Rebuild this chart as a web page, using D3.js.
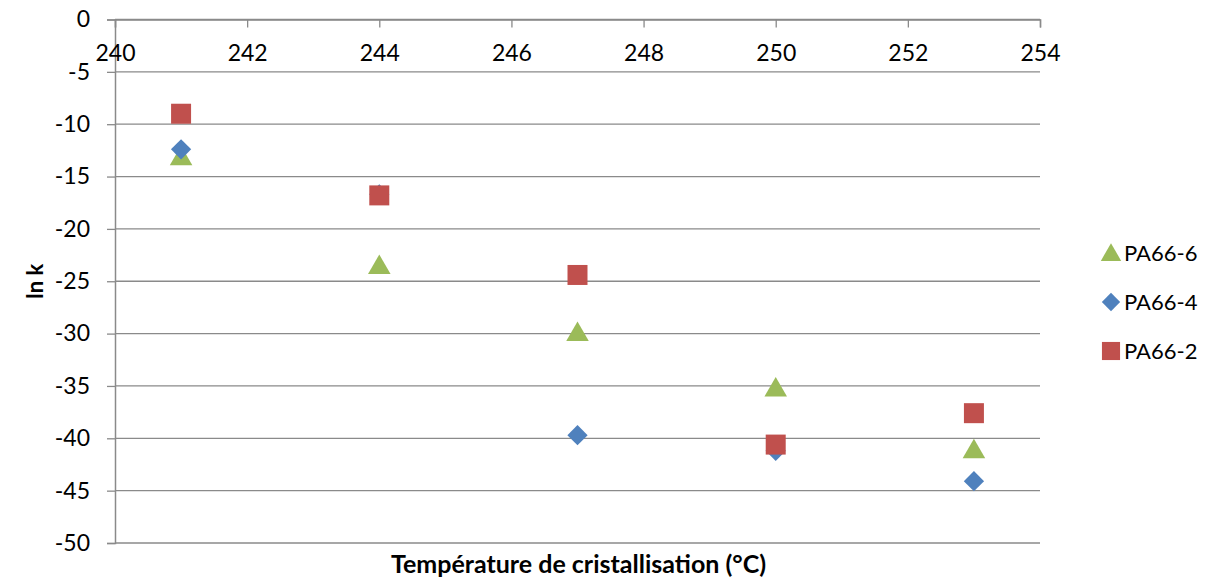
<!DOCTYPE html>
<html><head><meta charset="utf-8">
<script src="https://cdn.jsdelivr.net/npm/d3@7/dist/d3.min.js"></script>
<style>body{margin:0;background:#fff}svg{display:block}text{font-family:Lato,"Open Sans",sans-serif}</style>
</head><body><svg id="c" width="1212" height="581"></svg>
<script>
const temps = [241, 244, 247, 250, 253];
const pa66_6 = [-13.1, -23.5, -29.9, -35.2, -41.1];
const pa66_4 = [-12.4, -16.7, -39.7, -41.2, -44.1];
const pa66_2 = [-9.0, -16.8, -24.4, -40.6, -37.6];
const xTicks = [240, 242, 244, 246, 248, 250, 252, 254];
const yTicks = [0, -5, -10, -15, -20, -25, -30, -35, -40, -45, -50];
const seriesNames = ["PA66-6", "PA66-4", "PA66-2"];

const series = [
  {name: seriesNames[0], values: pa66_6, color: "#9BBB59", sym: d3.symbolTriangle, size: 220, rot: 0},
  {name: seriesNames[1], values: pa66_4, color: "#4F81BD", sym: d3.symbolSquare, size: 205, rot: 45},
  {name: seriesNames[2], values: pa66_2, color: "#C0504D", sym: d3.symbolSquare, size: 400, rot: 0}
];

const svg = d3.select("#c");
const L = 115, R = 1040, T = 19.5, B = 543;
const x = d3.scaleLinear().domain([240, 254]).range([L, R]);
const y = d3.scaleLinear().domain([-50, 0]).range([B, T]);

svg.append("g").selectAll("line").data(yTicks).join("line")
  .attr("x1", L).attr("x2", R).attr("y1", d => y(d)).attr("y2", d => y(d))
  .attr("stroke", "#8a8a8a").attr("stroke-width", 1.3);

const yAx = svg.append("g").attr("transform", `translate(${L},0)`)
  .call(d3.axisLeft(y).tickValues(yTicks).tickSize(8).tickPadding(17).tickFormat(d3.format("d")));
yAx.select(".domain").attr("stroke", "#8a8a8a").attr("stroke-width", 1.5);
yAx.selectAll(".tick line").attr("stroke", "#8a8a8a").attr("stroke-width", 1.3);
yAx.selectAll("text").attr("font-size", 23).attr("fill", "#000").text(d => d < 0 ? "-" + Math.abs(d) : d);

const xAx = svg.append("g").attr("transform", `translate(0,${y(0)})`)
  .call(d3.axisBottom(x).tickValues(xTicks).tickSize(8).tickPadding(17).tickFormat(d3.format("d")));
xAx.select(".domain").attr("stroke", "#8a8a8a").attr("stroke-width", 1.5);
xAx.selectAll(".tick line").attr("stroke", "#8a8a8a").attr("stroke-width", 1.3);
xAx.selectAll("text").attr("font-size", 23).attr("fill", "#000");

series.forEach(s => {
  svg.append("g").selectAll("path").data(s.values).join("path")
    .attr("d", d3.symbol().type(s.sym).size(s.size))
    .attr("transform", (d, i) => `translate(${x(temps[i])},${y(d) + (s.sym === d3.symbolTriangle ? 2 : 0)}) rotate(${s.rot})`)
    .attr("fill", s.color);
});

svg.append("text").attr("x", (L + R) / 2 + 1).attr("y", 573).attr("text-anchor", "middle")
  .attr("font-size", 25).attr("font-weight", "bold").text("Température de cristallisation (°C)");
svg.append("text").attr("transform", `translate(43,${(T + B) / 2}) rotate(-90)`).attr("text-anchor", "middle")
  .attr("font-size", 22).attr("font-weight", "bold").text("ln k");

const lg = svg.append("g");
series.forEach((s, i) => {
  const ly = 253 + i * 49;
  lg.append("path").attr("d", d3.symbol().type(s.sym).size(s.size * 0.82))
    .attr("transform", `translate(1111,${ly + (s.sym === d3.symbolTriangle ? 2 : 0)}) rotate(${s.rot})`)
    .attr("fill", s.color);
  lg.append("text").attr("x", 1124).attr("y", ly).attr("dy", "0.35em")
    .attr("font-size", 22).attr("fill", "#000").text(s.name);
});
</script></body></html>
